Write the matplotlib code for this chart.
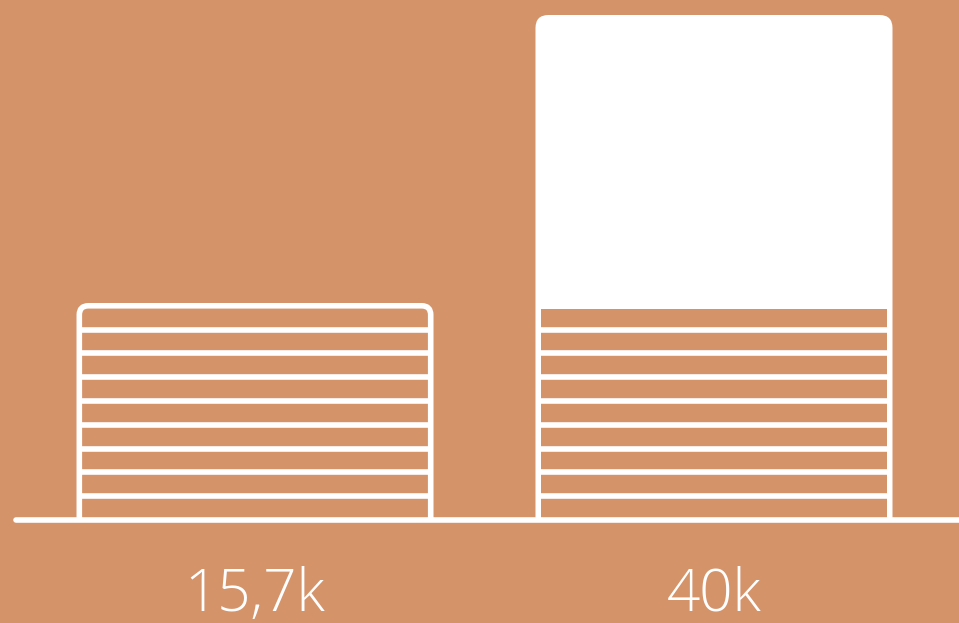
import matplotlib.pyplot as plt
from matplotlib.path import Path
from matplotlib.patches import PathPatch, Rectangle
import numpy as np

# data
labels = ["15,7k", "40k"]
base_values = [15.7, 15.7]      # striped part of each bar
totals = [15.7, 40.0]           # full bar height
n_stripes = 9

BG = "#D5936A"
WHITE = "#FFFFFF"

W, H, DPI = 959, 623, 100
fig = plt.figure(figsize=(W / DPI, H / DPI), dpi=DPI, facecolor=BG)
ax = fig.add_axes([0, 0, 1, 1])
ax.set_facecolor(BG)
ax.axis("off")

# axis layout (the picture's value axis is not zero-based)
floor = -2.2
xlim = (-0.5556, 1.5338)
ylim = (-10.807, 41.253)
ax.set_xlim(*xlim)
ax.set_ylim(*ylim)

px_x = W / (xlim[1] - xlim[0])   # pixels per x unit
px_y = H / (ylim[1] - ylim[0])   # pixels per y unit

bar_w = 357 / px_x
stroke_px = 5.6
lw = stroke_px * 72 / DPI
sx = stroke_px / px_x
sy = stroke_px / px_y


def top_rounded(x0, x1, y0, y1, r_px, closed):
    rx, ry = r_px / px_x, r_px / px_y
    verts = [(x0, y0), (x0, y1 - ry), (x0, y1), (x0 + rx, y1),
             (x1 - rx, y1), (x1, y1), (x1, y1 - ry), (x1, y0)]
    codes = [Path.MOVETO, Path.LINETO, Path.CURVE3, Path.CURVE3,
             Path.LINETO, Path.CURVE3, Path.CURVE3, Path.LINETO]
    if closed:
        verts.append((x0, y0))
        codes.append(Path.CLOSEPOLY)
    return Path(verts, codes)


for i, (b, t) in enumerate(zip(base_values, totals)):
    left, right = i - bar_w / 2, i + bar_w / 2
    if t > b:
        # solid white top part, striped bottom part
        ax.add_patch(PathPatch(top_rounded(left, right, floor, t, 13, True),
                               facecolor=WHITE, edgecolor="none", zorder=2))
        ax.add_patch(Rectangle((left + sx, floor), bar_w - 2 * sx,
                               b - sy / 2 - floor, facecolor=BG,
                               edgecolor="none", zorder=3))
    else:
        # outline only
        ax.add_patch(PathPatch(top_rounded(left + sx / 2, right - sx / 2,
                                           floor, b, 9, False),
                               facecolor="none", edgecolor=WHITE, lw=lw,
                               capstyle="butt", joinstyle="round", zorder=3))
    levels = floor + (b - floor) * np.arange(1, n_stripes) / n_stripes
    ax.hlines(levels, left + sx / 2, right - sx / 2, colors=WHITE, lw=lw,
              capstyle="butt", zorder=4)

# baseline
ax.plot([-0.5556 + 16 / px_x, xlim[1] + 0.1], [floor, floor], color=WHITE,
        lw=lw, solid_capstyle="round", zorder=5, clip_on=False)

# value labels
for i, lab in enumerate(labels):
    ax.text(i, floor - 7.6, lab, ha="center", va="baseline", color=WHITE,
            fontsize=42, family="Open Sans", fontweight=300)

fig.savefig("out.png", dpi=DPI, facecolor=BG)
